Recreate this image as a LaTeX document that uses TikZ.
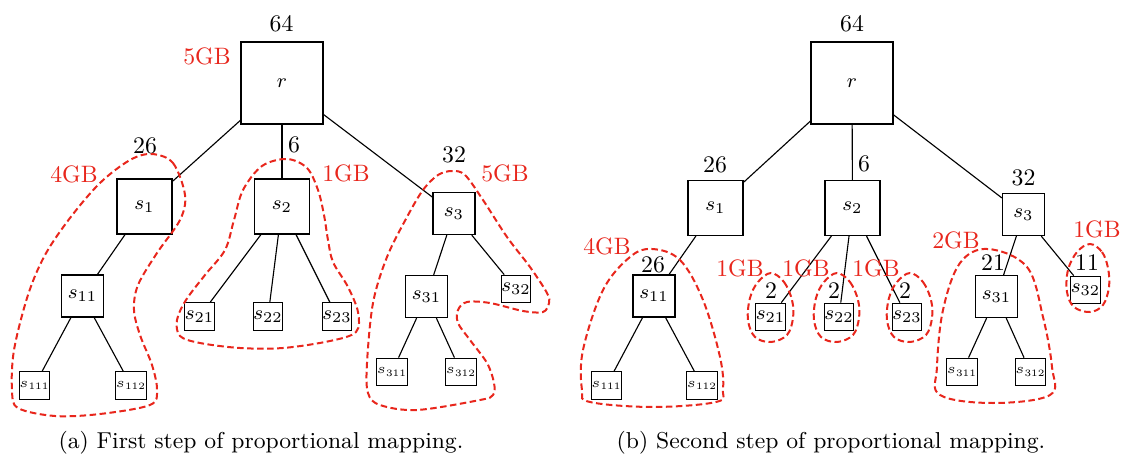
\RequirePackage{fix-cm}
\documentclass[tikz,border=0pt]{standalone}
\usepackage{fontspec}
\definecolor{gbred}{RGB}{232,38,28}
\begin{document}
\begin{tikzpicture}[x=0.4pt,y=-0.4pt,
  box/.style={draw, line width=0.5pt, inner sep=0pt, font=\fontsize{8}{9.6}\selectfont},
  bigbox/.style={box, minimum size=32.8pt},
  midbox/.style={box, minimum size=22pt},
  smallbox/.style={box, minimum size=16.8pt},
  leafbox/.style={box, minimum size=11pt},
  tinybox/.style={box, minimum size=11pt, font=\fontsize{5.6}{6.5}\selectfont},
  edge/.style={line width=0.45pt},
  wlabel/.style={inner sep=0pt, font=\fontsize{9.5}{11}\selectfont},
  mem/.style={wlabel, text=gbred},
  capt/.style={inner sep=0pt, font=\fontsize{9.2}{11}\selectfont},
  group/.style={draw=gbred, line width=0.8pt, dash pattern=on 2.6pt off 1.4pt}
]
\useasboundingbox (0,0) rectangle (1122,460);

% ---------------- (a) ----------------
\node[bigbox]   (rA)    at (282,83)    {$r$};
\node[midbox]   (s1A)   at (144.5,206.5) {$s_1$};
\node[midbox]   (s2A)   at (282,206.5) {$s_2$};
\node[smallbox] (s3A)   at (454,213.5) {$s_3$};
\node[smallbox] (s11A)  at (82.5,296)  {$s_{11}$};
\node[tinybox]  (s111A) at (34.5,385.5) {$s_{111}$};
\node[tinybox]  (s112A) at (131,385.5) {$s_{112}$};
\node[leafbox]  (s21A)  at (199.5,316.5) {$s_{21}$};
\node[leafbox]  (s22A)  at (268,316.5) {$s_{22}$};
\node[leafbox]  (s23A)  at (337,316.5) {$s_{23}$};
\node[smallbox] (s31A)  at (426.5,296.5) {$s_{31}$};
\node[leafbox]  (s32A)  at (516,289)   {$s_{32}$};
\node[tinybox]  (s311A) at (392,372)   {$s_{311}$};
\node[tinybox]  (s312A) at (461,372)   {$s_{312}$};

\draw[edge] (rA) -- (s1A);
\draw[edge] (rA) -- (s2A);
\draw[edge] (rA) -- (s3A);
\draw[edge] (s1A) -- (s11A);
\draw[edge] (s11A) -- (s111A);
\draw[edge] (s11A) -- (s112A);
\draw[edge] (s2A) -- (s21A);
\draw[edge] (s2A) -- (s22A);
\draw[edge] (s2A) -- (s23A);
\draw[edge] (s3A) -- (s31A);
\draw[edge] (s3A) -- (s32A);
\draw[edge] (s31A) -- (s311A);
\draw[edge] (s31A) -- (s312A);

\node[wlabel] (wrA)  at (281.5,23.5) {64};
\node[wlabel] (w1A)  at (145,146)    {26};
\node[wlabel] (w2A)  at (294,145)    {6};
\node[wlabel] (w3A)  at (454,155)    {32};
\node[mem] (mrA) at (207,56)    {5GB};
\node[mem] (m1A) at (74,174)    {4GB};
\node[mem] (m2A) at (346,173)   {1GB};
\node[mem] (m3A) at (505,173.5) {5GB};

\draw[group] plot[smooth cycle, tension=0.55] coordinates {
  (152,154) (173,163) (185,195) (180,220) (157,253) (138,285) (134,310)
  (140,335) (152,365) (157,390) (150,405) (100,414) (55,416) (18,408)
  (12,390) (14,350) (28,295) (45,255) (70,218) (100,183) (130,160)};
\draw[group] plot[smooth cycle, tension=0.55] coordinates {
  (287,159) (307,168) (318,190) (324,215) (328,240) (333,262) (348,287)
  (358,312) (356,332) (330,341) (283,348) (240,348) (200,343) (180,336)
  (177,320) (186,300) (205,275) (225,250) (234,220) (243,190) (262,166)};
\draw[group] plot[smooth cycle, tension=0.55] coordinates {
  (452,171) (465,175) (483,200) (507,237) (530,267) (547,293) (549,303)
  (543,312) (523,311) (490,303) (467,302) (458,310) (458,323) (470,340)
  (487,363) (494,383) (493,395) (480,400) (417,410) (380,405) (368,393)
  (367,363) (373,303) (387,257) (407,217) (423,190) (438,175)};

% ---------------- (b) ----------------
\node[bigbox]   (rB)    at (852,83)    {$r$};
\node[midbox]   (s1B)   at (715.5,208) {$s_1$};
\node[midbox]   (s2B)   at (852.5,208) {$s_2$};
\node[smallbox] (s3B)   at (1023.5,214.5) {$s_3$};
\node[smallbox] (s11B)  at (654,296)   {$s_{11}$};
\node[tinybox]  (s111B) at (606.5,385.5) {$s_{111}$};
\node[tinybox]  (s112B) at (702,385.5) {$s_{112}$};
\node[leafbox]  (s21B)  at (770.5,317) {$s_{21}$};
\node[leafbox]  (s22B)  at (839,317)   {$s_{22}$};
\node[leafbox]  (s23B)  at (907,317)   {$s_{23}$};
\node[smallbox] (s31B)  at (996.5,296.5) {$s_{31}$};
\node[leafbox]  (s32B)  at (1085.5,290) {$s_{32}$};
\node[tinybox]  (s311B) at (962,372)   {$s_{311}$};
\node[tinybox]  (s312B) at (1030.5,372) {$s_{312}$};

\draw[edge] (rB) -- (s1B);
\draw[edge] (rB) -- (s2B);
\draw[edge] (rB) -- (s3B);
\draw[edge] (s1B) -- (s11B);
\draw[edge] (s11B) -- (s111B);
\draw[edge] (s11B) -- (s112B);
\draw[edge] (s2B) -- (s21B);
\draw[edge] (s2B) -- (s22B);
\draw[edge] (s2B) -- (s23B);
\draw[edge] (s3B) -- (s31B);
\draw[edge] (s3B) -- (s32B);
\draw[edge] (s31B) -- (s311B);
\draw[edge] (s31B) -- (s312B);

\node[wlabel] (wrB)  at (852,23.5)  {64};
\node[wlabel] (w1B)  at (715,164.5) {26};
\node[wlabel] (w2B)  at (864,164)   {6};
\node[wlabel] (w3B)  at (1023.5,177.5) {32};
\node[wlabel] (w11B) at (653,264.5) {26};
\node[wlabel] (w21B) at (771,291)   {2};
\node[wlabel] (w22B) at (834,291)   {2};
\node[wlabel] (w23B) at (905,291)   {2};
\node[wlabel] (w31B) at (993,263)   {21};
\node[wlabel] (w32B) at (1087,263)  {11};
\node[mem] (m11B) at (607,246)  {4GB};
\node[mem] (m21B) at (740,268)  {1GB};
\node[mem] (m22B) at (806,268)  {1GB};
\node[mem] (m23B) at (876,268)  {1GB};
\node[mem] (m31B) at (956,240)  {2GB};
\node[mem] (m32B) at (1097,229.5) {1GB};

\draw[group] plot[smooth cycle, tension=0.6] coordinates {
  (652,249) (680,260) (703,300) (720,357) (723,390) (716,402) (653,407)
  (590,402) (582,390) (583,350) (603,290) (630,257)};
\draw[group] plot[smooth cycle, tension=0.6] coordinates {
  (988,249) (1027,267) (1043,317) (1052,367) (1050,395) (993,403)
  (940,395) (937,367) (943,310) (960,263)};
\foreach \cx in {771, 837, 910}{
  \draw[group] plot[smooth cycle, tension=0.6] coordinates {
    (\cx,273) (\cx+13,282) (\cx+21,300) (\cx+22,318) (\cx+16,335) (\cx,342)
    (\cx-16,337) (\cx-23,320) (\cx-21,298) (\cx-13,282)};
}
\draw[group] plot[smooth cycle, tension=0.6] coordinates {
  (1090,244) (1102,252) (1108,268) (1109,287) (1103,305) (1090,312)
  (1074,307) (1067,292) (1068,270) (1077,252)};

% captions
\node[capt] (capA) at (261,443) {(a)\ First step of proportional mapping.};
\node[capt] (capB) at (831,443) {(b)\ Second step of proportional mapping.};
\end{tikzpicture}
\end{document}
